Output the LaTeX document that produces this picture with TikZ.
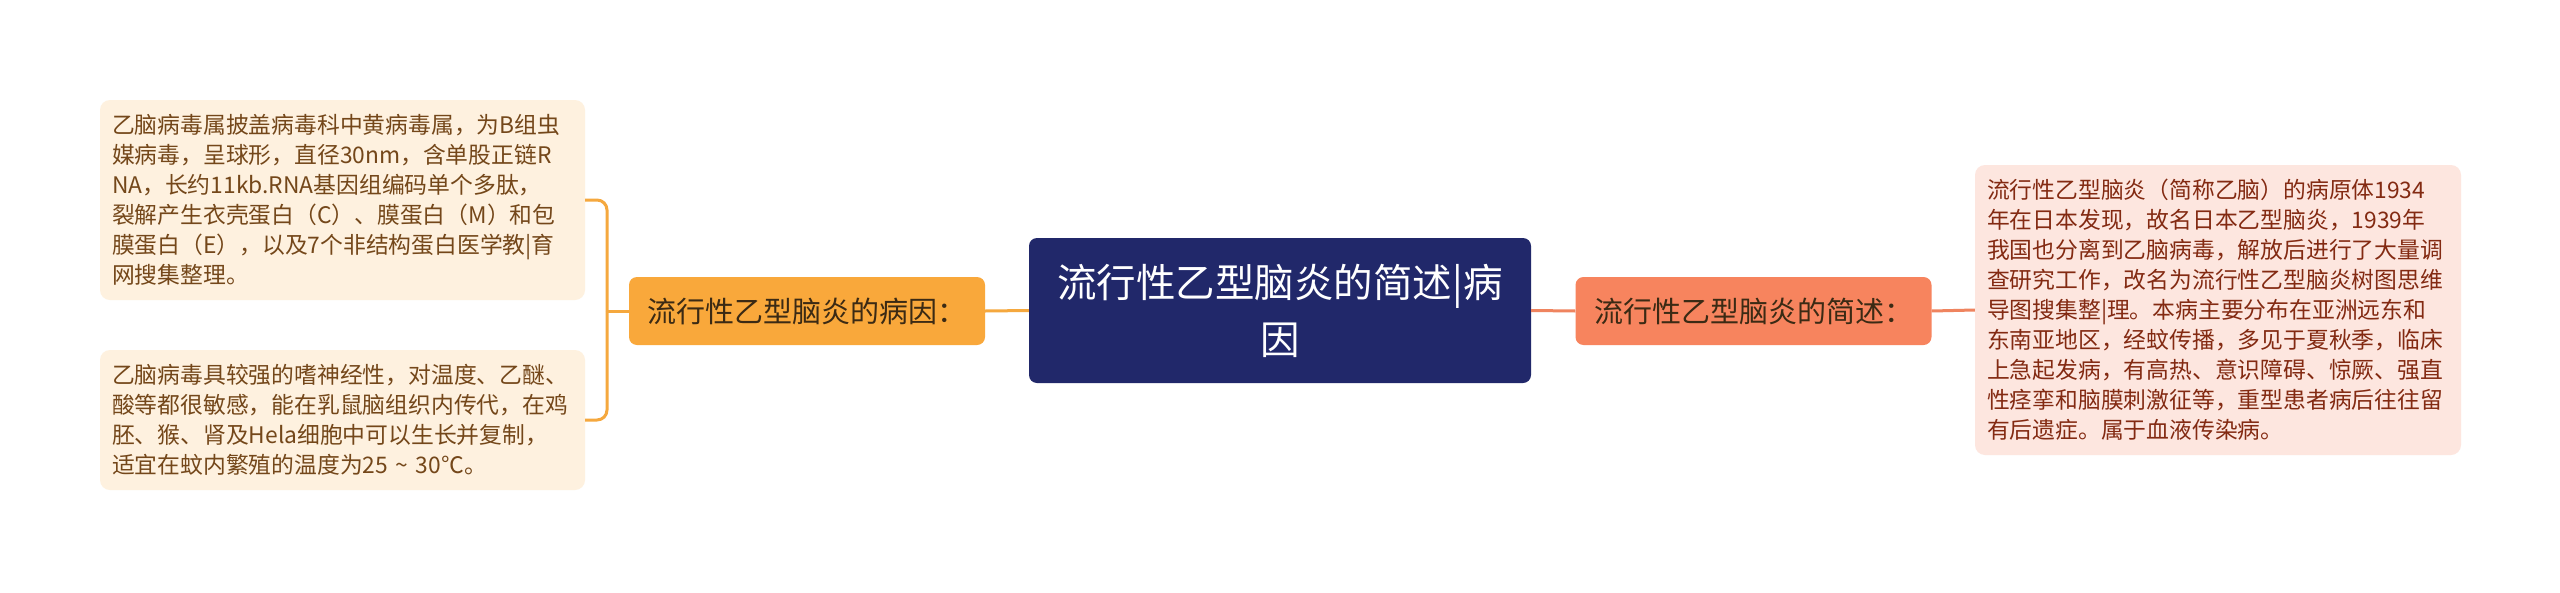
\documentclass[tikz,border=0pt]{standalone}
\usepackage{fontspec}
\newfontfamily\cjk{Noto Sans CJK SC}
\definecolor{navy}{HTML}{21286A}
\definecolor{orangeN}{HTML}{F9A83B}
\definecolor{orangeL}{HTML}{F5A83E}
\definecolor{creamF}{HTML}{FEF1DF}
\definecolor{brownT}{HTML}{74471A}
\definecolor{salmonN}{HTML}{F7845E}
\definecolor{salmonL}{HTML}{EF845F}
\definecolor{pinkF}{HTML}{FDE6DF}
\definecolor{redT}{HTML}{832A12}
\definecolor{darkT}{HTML}{3B2A14}
\begin{document}
\begin{tikzpicture}[x=1pt,y=-1pt,
  rootbox/.style={fill=navy, text=white, rounded corners=8pt, align=center,
    minimum width=502pt, minimum height=145pt, inner sep=0pt,
    font=\cjk\fontsize{39.5pt}{57pt}\selectfont},
  branchbox/.style={rounded corners=8pt, minimum width=356pt, minimum height=68pt,
    inner sep=0pt, font=\cjk\fontsize{29pt}{34pt}\selectfont},
  leafbox/.style={rounded corners=10pt, inner xsep=12pt, inner ysep=0pt, align=left,
    font=\cjk\fontsize{22.8pt}{30pt}\selectfont},
  linkL/.style={draw=orangeL, line width=3pt},
  linkR/.style={draw=salmonL, line width=3pt}]
\fill[white] (0,0) rectangle (2560,592);
\useasboundingbox (0,0) rectangle (2560,592);

\node[rootbox] (root) at (1280,310.5) {流行性乙型脑炎的简述|病\\因};

\node[branchbox, fill=orangeN, text=darkT] (lb) at (807,311) {流行性乙型脑炎的病因：};
\node[branchbox, fill=salmonN, text=darkT] (rb) at (1753.5,311) {流行性乙型脑炎的简述：};

\node[leafbox, fill=creamF, text=brownT, text width=461pt, minimum height=200pt] (l1) at (342.5,200) {乙脑病毒属披盖病毒科中黄病毒属，为B组虫\\媒病毒，呈球形，直径30nm，含单股正链R\\NA，长约11kb.RNA基因组编码单个多肽，\\裂解产生衣壳蛋白（C）、膜蛋白（M）和包\\膜蛋白（E），以及7个非结构蛋白医学教|育\\网搜集整理。};

\node[leafbox, fill=creamF, text=brownT, text width=461pt, minimum height=140pt] (l2) at (342.5,420) {乙脑病毒具较强的嗜神经性，对温度、乙醚、\\酸等都很敏感，能在乳鼠脑组织内传代，在鸡\\胚、猴、肾及Hela细胞中可以生长并复制，\\适宜在蚊内繁殖的温度为25 \textasciitilde{} 30℃。};

\node[leafbox, fill=pinkF, text=redT, text width=462pt, minimum height=290pt] (r1) at (2218,310) {流行性乙型脑炎（简称乙脑）的病原体1934\\年在日本发现，故名日本乙型脑炎，1939年\\我国也分离到乙脑病毒，解放后进行了大量调\\查研究工作，改名为流行性乙型脑炎树图思维\\导图搜集整|理。本病主要分布在亚洲远东和\\东南亚地区，经蚊传播，多见于夏秋季，临床\\上急起发病，有高热、意识障碍、惊厥、强直\\性痉挛和脑膜刺激征等，重型患者病后往往留\\有后遗症。属于血液传染病。};

\coordinate (j) at (607,311);
\draw[linkL] (root.west) -- (lb.east);
\draw[linkL] (lb.west) -- (j);
\draw[linkL, rounded corners=10pt] (l1.east) -| (j);
\draw[linkL, rounded corners=10pt] (l2.east) -| (j);
\draw[linkR] (root.east) -- (rb.west);
\draw[linkR] (rb.east) -- (r1.west);
\end{tikzpicture}
\end{document}
